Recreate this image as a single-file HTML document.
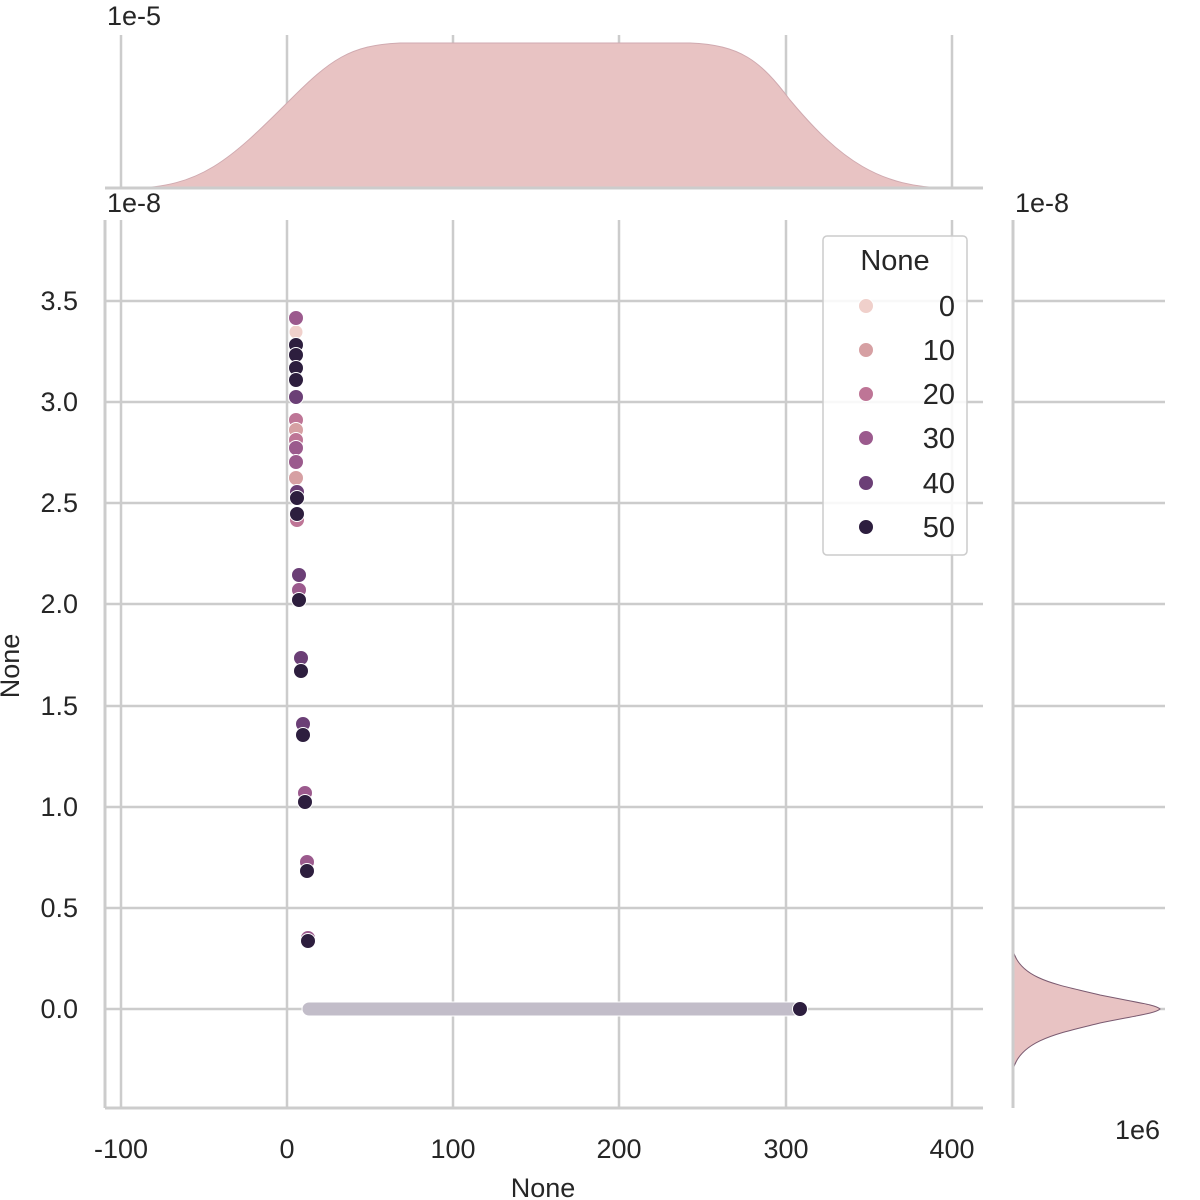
<!DOCTYPE html>
<html><head><meta charset="utf-8"><style>
html,body{margin:0;padding:0;background:#fff;}
svg{display:block;font-family:"Liberation Sans",Arial,sans-serif;}
</style></head><body>
<svg width="1200" height="1200" viewBox="0 0 1200 1200">
<g stroke="#cccccc" stroke-width="2.5">
<line x1="121" y1="220" x2="121" y2="1108"/>
<line x1="287" y1="220" x2="287" y2="1108"/>
<line x1="453" y1="220" x2="453" y2="1108"/>
<line x1="619" y1="220" x2="619" y2="1108"/>
<line x1="786" y1="220" x2="786" y2="1108"/>
<line x1="952" y1="220" x2="952" y2="1108"/>
<line x1="105" y1="301" x2="983" y2="301"/>
<line x1="105" y1="402" x2="983" y2="402"/>
<line x1="105" y1="503" x2="983" y2="503"/>
<line x1="105" y1="604" x2="983" y2="604"/>
<line x1="105" y1="706" x2="983" y2="706"/>
<line x1="105" y1="807" x2="983" y2="807"/>
<line x1="105" y1="908" x2="983" y2="908"/>
<line x1="105" y1="1009" x2="983" y2="1009"/>
<line x1="1013" y1="301" x2="1165" y2="301"/>
<line x1="1013" y1="402" x2="1165" y2="402"/>
<line x1="1013" y1="503" x2="1165" y2="503"/>
<line x1="1013" y1="604" x2="1165" y2="604"/>
<line x1="1013" y1="706" x2="1165" y2="706"/>
<line x1="1013" y1="807" x2="1165" y2="807"/>
<line x1="1013" y1="908" x2="1165" y2="908"/>
<line x1="1013" y1="1009" x2="1165" y2="1009"/>
<line x1="121" y1="35" x2="121" y2="188"/>
<line x1="287" y1="35" x2="287" y2="188"/>
<line x1="453" y1="35" x2="453" y2="188"/>
<line x1="619" y1="35" x2="619" y2="188"/>
<line x1="786" y1="35" x2="786" y2="188"/>
<line x1="952" y1="35" x2="952" y2="188"/>
</g>
<path d="M105,188 L130,188 C200,188 230,160 290,100 C330,60 350,45 400,43 L690,43 C740,45 760,60 790,100 C840,160 880,188 950,188 L983,188 Z" fill="#e8c3c3" stroke="#d0aab0" stroke-width="1"/>
<path d="M1013,950 C1020,980 1060,985 1100,995 C1140,1003 1156,1005 1160,1009 C1156,1013 1140,1015 1100,1023 C1060,1033 1020,1040 1013,1070 Z" fill="#e8c3c3" stroke="#7a5a70" stroke-width="1"/>
<g stroke="#cccccc" stroke-width="3">
<line x1="105" y1="220" x2="105" y2="1108"/>
<line x1="105" y1="1108" x2="983" y2="1108"/>
<line x1="105" y1="188" x2="983" y2="188"/>
<line x1="1013" y1="220" x2="1013" y2="1108"/>
</g>
<rect x="302" y="1002" width="498" height="14" rx="7" fill="#c2bdc9" stroke="#ffffff" stroke-width="1"/>
<circle cx="800" cy="1009" r="7.5" fill="#2d1e3e" stroke="#fff" stroke-width="1"/>
<g stroke="#fff" stroke-width="1">
<circle cx="296" cy="332" r="7" fill="#f0d0cb"/>
<circle cx="296" cy="318" r="7.5" fill="#9b5a8d"/>
<circle cx="296" cy="345" r="7.5" fill="#2d1e3e"/>
<circle cx="296" cy="355" r="7.5" fill="#2d1e3e"/>
<circle cx="296" cy="368" r="7.5" fill="#2d1e3e"/>
<circle cx="296" cy="380" r="7.5" fill="#2d1e3e"/>
<circle cx="296" cy="397" r="7.5" fill="#6b3f76"/>
<circle cx="296" cy="420" r="7.5" fill="#be7596"/>
<circle cx="296" cy="430" r="7.5" fill="#d6a0a3"/>
<circle cx="296" cy="440" r="7.5" fill="#be7596"/>
<circle cx="296" cy="448" r="7.5" fill="#9b5a8d"/>
<circle cx="296" cy="462" r="7.5" fill="#9b5a8d"/>
<circle cx="296" cy="478" r="7.5" fill="#d6a0a3"/>
<circle cx="297" cy="492" r="7.5" fill="#6b3f76"/>
<circle cx="297" cy="498" r="7.5" fill="#2d1e3e"/>
<circle cx="297" cy="520" r="7.5" fill="#be7596"/>
<circle cx="297" cy="514" r="7.5" fill="#2d1e3e"/>
<circle cx="299" cy="575" r="7.5" fill="#6b3f76"/>
<circle cx="299" cy="590" r="7.5" fill="#9b5a8d"/>
<circle cx="299" cy="600" r="7.5" fill="#2d1e3e"/>
<circle cx="301" cy="658" r="7.5" fill="#6b3f76"/>
<circle cx="301" cy="671" r="7.5" fill="#2d1e3e"/>
<circle cx="303" cy="724" r="7.5" fill="#6b3f76"/>
<circle cx="303" cy="735" r="7.5" fill="#2d1e3e"/>
<circle cx="305" cy="793" r="7.5" fill="#9b5a8d"/>
<circle cx="305" cy="802" r="7.5" fill="#2d1e3e"/>
<circle cx="307" cy="862" r="7.5" fill="#9b5a8d"/>
<circle cx="307" cy="871" r="7.5" fill="#2d1e3e"/>
<circle cx="308" cy="938" r="7.5" fill="#9b5a8d"/>
<circle cx="308" cy="941" r="7.5" fill="#2d1e3e"/>
</g>
<rect x="823" y="236" width="144" height="319" rx="4" fill="#fff" fill-opacity="0.85" stroke="#cccccc" stroke-width="1.5"/>
<g font-size="29" fill="#262626">
<text x="895" y="270" text-anchor="middle">None</text>
<text x="955" y="316" text-anchor="end">0</text>
<text x="955" y="360" text-anchor="end">10</text>
<text x="955" y="404" text-anchor="end">20</text>
<text x="955" y="448" text-anchor="end">30</text>
<text x="955" y="493" text-anchor="end">40</text>
<text x="955" y="537" text-anchor="end">50</text>
</g>
<g stroke="#fff" stroke-width="1">
<circle cx="866" cy="306" r="7.5" fill="#f0d0cb"/>
<circle cx="866" cy="350" r="7.5" fill="#d6a0a3"/>
<circle cx="866" cy="394" r="7.5" fill="#be7596"/>
<circle cx="866" cy="438" r="7.5" fill="#9b5a8d"/>
<circle cx="866" cy="483" r="7.5" fill="#6b3f76"/>
<circle cx="866" cy="527" r="7.5" fill="#2d1e3e"/>
</g>
<g font-size="27" fill="#262626">
<g text-anchor="middle">
<text x="121" y="1158">-100</text>
<text x="287" y="1158">0</text>
<text x="453" y="1158">100</text>
<text x="619" y="1158">200</text>
<text x="786" y="1158">300</text>
<text x="952" y="1158">400</text>
<text x="543" y="1197">None</text>
</g>
<g text-anchor="end">
<text x="78" y="310">3.5</text>
<text x="78" y="411">3.0</text>
<text x="78" y="512">2.5</text>
<text x="78" y="613">2.0</text>
<text x="78" y="715">1.5</text>
<text x="78" y="816">1.0</text>
<text x="78" y="917">0.5</text>
<text x="78" y="1018">0.0</text>
</g>
<text x="107" y="25">1e-5</text>
<text x="107" y="212">1e-8</text>
<text x="1015" y="212">1e-8</text>
<text x="1115" y="1139">1e6</text>
<text transform="translate(19,666) rotate(-90)" text-anchor="middle">None</text>
</g>
</svg>
</body></html>
